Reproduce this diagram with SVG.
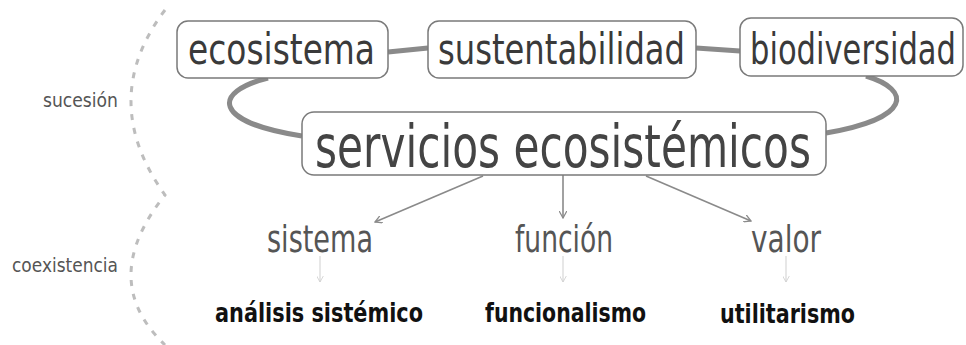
<svg xmlns="http://www.w3.org/2000/svg" width="966" height="345" viewBox="0 0 966 345">
<style>
text{font-family:"Liberation Sans Narrow","DejaVu Sans Condensed","Liberation Sans",sans-serif;}
.box{fill:#fff;stroke:#7a7a7a;stroke-width:1.5;}
.t1{font-size:43px;fill:#3a3a3a;}
.t2{font-size:59px;fill:#444;}
.t3{font-size:38px;fill:#555;}
.t4{font-size:26px;fill:#111;font-weight:bold;}
.side{font-size:19px;fill:#555;}
.thick{fill:none;stroke:#8a8a8a;stroke-width:5;}
.arr{fill:none;stroke:#8a8a8a;stroke-width:1.6;}
.lt{fill:none;stroke:#cfcfcf;stroke-width:1;}
</style>
<defs>
<marker id="ah" viewBox="0 0 10 10" refX="9" refY="5" markerWidth="8" markerHeight="8" markerUnits="userSpaceOnUse" orient="auto">
<path d="M0,0 L9,5 L0,10" fill="none" stroke="#8a8a8a" stroke-width="1.6"/>
</marker>
<marker id="al" viewBox="0 0 10 10" refX="9" refY="5" markerWidth="7" markerHeight="7" markerUnits="userSpaceOnUse" orient="auto">
<path d="M0,0 L9,5 L0,10" fill="none" stroke="#cfcfcf" stroke-width="1.2"/>
</marker>
</defs>
<path d="M165,10 Q97,100 165,195 Q97,280 165,345" fill="none" stroke="#bdbdbd" stroke-width="3" stroke-dasharray="6 8"/>
<text class="side" x="43" y="107" textLength="75" lengthAdjust="spacingAndGlyphs">sucesión</text>
<text class="side" x="12" y="272" textLength="106" lengthAdjust="spacingAndGlyphs">coexistencia</text>
<g id="connectors">
<path class="thick" d="M388,52 L428,48"/>
<path class="thick" d="M696,48 L740,51"/>
<path class="thick" d="M268,78 C212,92 212,122 302,136"/>
<path class="thick" d="M866,76 C912,90 912,118 826,133"/>
<path class="arr" d="M483,176 L375,222" marker-end="url(#ah)"/>
<path class="arr" d="M563,175 L563,218" marker-end="url(#ah)"/>
<path class="arr" d="M646,176 L751,221" marker-end="url(#ah)"/>
<path class="lt" d="M320,256 L320,282" marker-end="url(#al)"/>
<path class="lt" d="M563,256 L563,282" marker-end="url(#al)"/>
<path class="lt" d="M786,256 L786,282" marker-end="url(#al)"/>
</g>
<g id="ecosistema">
<rect class="box" x="177" y="21" width="211" height="57" rx="11"/>
<text class="t1" x="188" y="64" textLength="187" lengthAdjust="spacingAndGlyphs">ecosistema</text>
</g>
<g id="sustentabilidad">
<rect class="box" x="428" y="21" width="268" height="57" rx="11"/>
<text class="t1" x="438" y="64" textLength="247" lengthAdjust="spacingAndGlyphs">sustentabilidad</text>
</g>
<g id="biodiversidad">
<rect class="box" x="740" y="18" width="223" height="58" rx="11"/>
<text class="t1" x="750" y="64" textLength="206" lengthAdjust="spacingAndGlyphs">biodiversidad</text>
</g>
<g id="servicios">
<rect class="box" x="302" y="112" width="524" height="63" rx="12"/>
<text class="t2" x="315" y="167" textLength="496" lengthAdjust="spacingAndGlyphs">servicios ecosistémicos</text>
</g>
<g id="sistema"><text class="t3" x="267" y="252" textLength="106" lengthAdjust="spacingAndGlyphs">sistema</text></g>
<g id="funcion"><text class="t3" x="515" y="252" textLength="98" lengthAdjust="spacingAndGlyphs">función</text></g>
<g id="valor"><text class="t3" x="751" y="252" textLength="70" lengthAdjust="spacingAndGlyphs">valor</text></g>
<g id="analisis"><text class="t4" x="215" y="322" textLength="208" lengthAdjust="spacingAndGlyphs">análisis sistémico</text></g>
<g id="funcionalismo"><text class="t4" x="485" y="322" textLength="161" lengthAdjust="spacingAndGlyphs">funcionalismo</text></g>
<g id="utilitarismo"><text class="t4" x="720" y="323" textLength="135" lengthAdjust="spacingAndGlyphs">utilitarismo</text></g>
</svg>
